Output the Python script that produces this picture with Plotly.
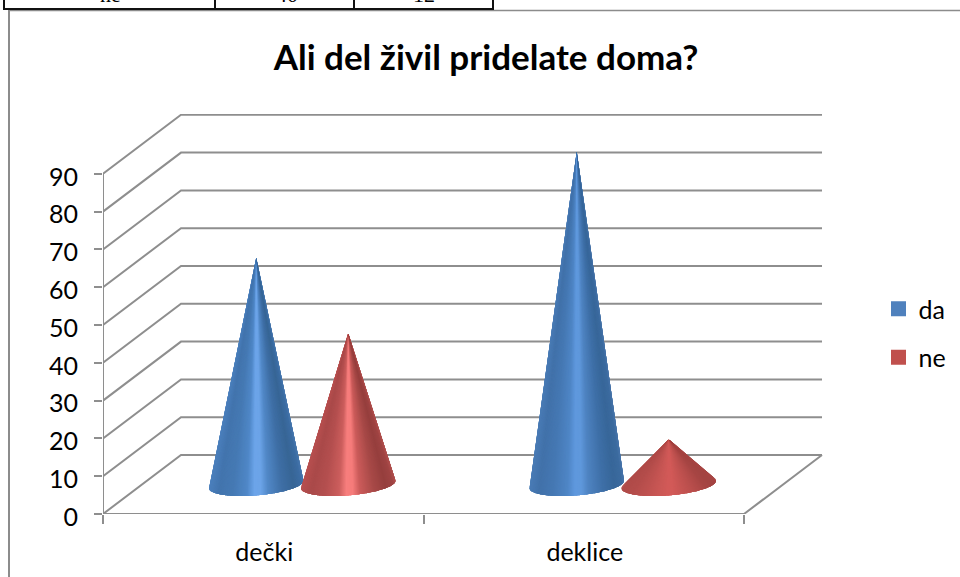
import numpy as np
import plotly.graph_objects as go

# Survey results
categories = ["dečki", "deklice"]
series_names = ["da", "ne"]
da_values = [60, 88]
ne_values = [40, 12]
y_ticks = [0, 10, 20, 30, 40, 50, 60, 70, 80, 90]
table_row = ["ne", "40", "12"]

# Canvas and plot-box geometry, in pixels
W, H = 960, 577
PX_LEFT, PX_RIGHT, PX_TOP, PX_BOTTOM = 103, 823, 114, 514
CAT_PX = 320.5      # width of one category on the floor's front edge
UNIT_PX = 3.78      # height of one value unit
DEPTH_X = (78 / CAT_PX)     # floor depth expressed in x data units
DEPTH_Y = (59 / UNIT_PX)    # floor depth expressed in y data units

GRID = "#8e8e8e"
SIDE_OFFSET = 46 / CAT_PX   # horizontal offset of a cone from the category centre
RADIUS_X = 44.7 / CAT_PX
RADIUS_Y = 11.5 / UNIT_PX

# Colour profile across a cone, from the left silhouette to the right one
PROFILE_U = [-1.0, -0.8, -0.5, -0.2, -0.04, 0.1, 0.25, 0.55, 0.8, 0.95, 1.0]
BLUE_PROFILE = ["#4c80bd", "#4375ae", "#467ab4", "#5088c8", "#6ca5ea", "#6ca4e8", "#5289c8",
                "#3f6fa6", "#386696", "#3d6da3", "#4777ae"]
BLUE_TALL_PROFILE = ["#4a7cb6", "#4272aa", "#4679b4", "#4f86c6", "#5f98de", "#5f98dc", "#4f84c2",
                     "#3f70a8", "#38679a", "#3d6ca0", "#4775aa"]
RED_PROFILE = ["#b85050", "#aa4a4a", "#b55050", "#cc5e5d", "#f87f7e", "#f67c7b", "#cc5c5b",
               "#a84a48", "#963f3e", "#a04544", "#b04f4d"]
RED_FLAT_PROFILE = ["#b04b49", "#b44d4b", "#bf5250", "#cb5856", "#d25a58", "#d25a58", "#c95654",
                    "#b84e4c", "#a84644", "#a34442", "#a84644"]
CONE_STYLES_DA = [BLUE_PROFILE, BLUE_TALL_PROFILE]
CONE_STYLES_NE = [RED_PROFILE, RED_FLAT_PROFILE]


def shade(profile, u):
    rgb = np.array([[int(c[i:i + 2], 16) for i in (1, 3, 5)] for c in profile], float)
    vals = [np.interp(u, PROFILE_U, rgb[:, k]) for k in range(3)]
    return "rgb(%d,%d,%d)" % tuple(vals)


def cone_traces(cx, value, profile, steps=120, overlap=4):
    """Fan of shaded facets from the apex to a base circle lying on the sheared floor."""
    base_y = DEPTH_Y / 2
    apex_y = base_y + value
    run = (DEPTH_X / DEPTH_Y) * RADIUS_Y
    # Starts at the left silhouette point and sweeps the near arc first
    theta = np.arctan2(run, RADIUS_X) - np.pi + np.linspace(0, 2 * np.pi, 2 * steps + 1)
    bx = cx + RADIUS_X * np.cos(theta) + run * np.sin(theta)
    by = base_y + RADIUS_Y * np.sin(theta)
    reach = bx.max() - cx
    half = steps
    out = []
    # Far arc goes down first; near facets then overlap their right-hand neighbour's
    # slot, so each new facet hides the seam left by the one before it
    for i in list(range(half, 2 * half, 2)) + list(range(0, half)):
        end = min(i + overlap, 2 * half)
        u = (bx[i] + bx[i + 1]) / 2
        col = shade(profile, (u - cx) / reach)
        out.append(go.Scatter(
            x=[cx, *bx[i:end + 1], cx], y=[apex_y, *by[i:end + 1], apex_y],
            mode="none", fill="toself", fillcolor=col,
            hoverinfo="skip", showlegend=False, cliponaxis=False,
        ))
    return out


fig = go.Figure()

# Floor outline and the gridlines wrapping round the side and back walls
x_end = len(categories)
for tick in y_ticks:
    fig.add_trace(go.Scatter(
        x=[0, DEPTH_X, x_end + DEPTH_X], y=[tick, tick + DEPTH_Y, tick + DEPTH_Y],
        mode="lines", line=dict(color=GRID, width=2), hoverinfo="skip",
        showlegend=False, cliponaxis=False,
    ))
fig.add_trace(go.Scatter(
    x=[0, x_end, x_end + DEPTH_X], y=[0, 0, DEPTH_Y],
    mode="lines", line=dict(color=GRID, width=2), hoverinfo="skip",
    showlegend=False, cliponaxis=False,
))
fig.add_trace(go.Scatter(
    x=[0, 0], y=[0, y_ticks[-1]],
    mode="lines", line=dict(color=GRID, width=2), hoverinfo="skip",
    showlegend=False, cliponaxis=False,
))

# Cones, one per category and series
depth_mid = DEPTH_X / 2
for i in range(len(categories)):
    centre = i + 0.5 + depth_mid
    for t in cone_traces(centre - SIDE_OFFSET, da_values[i], CONE_STYLES_DA[i]):
        fig.add_trace(t)
    for t in cone_traces(centre + SIDE_OFFSET, ne_values[i], CONE_STYLES_NE[i]):
        fig.add_trace(t)

# Legend entries
for name, col in zip(series_names, ["#4f81bd", "#c0504d"]):
    fig.add_trace(go.Scatter(
        x=[None], y=[None], mode="markers", name=name, legendgroup=name,
        marker=dict(symbol="square", size=15, color=col),
    ))


def fx(px):
    return (px - PX_LEFT) / (PX_RIGHT - PX_LEFT)


def fy(py):
    return (PX_BOTTOM - py) / (PX_BOTTOM - PX_TOP)


def page_line(x0, y0, x1, y1, color, width):
    return dict(type="line", xref="paper", yref="paper", x0=fx(x0), y0=fy(y0), x1=fx(x1), y1=fy(y1),
                line=dict(color=color, width=width))


# Frame of the chart and the bottom of the table above it
shapes = [
    page_line(9, 10.5, 960, 10.5, "#8c8c8c", 1.5),
    page_line(9, 10, 9, 577, "#8c8c8c", 2),
    page_line(3, 9, 494, 9, "#111111", 2),
]
for px in (4, 215, 354, 493):
    shapes.append(page_line(px, 0, px, 9, "#111111", 2))

annotations = [
    dict(text=txt, xref="paper", yref="paper", x=fx(px), y=fy(9), xanchor="center", yanchor="bottom",
         showarrow=False, font=dict(family="Liberation Serif", size=22, color="#000000"))
    for txt, px in zip(table_row, (110, 287, 424))
]

fig.update_layout(
    width=W, height=H,
    autosize=False,
    margin=dict(l=PX_LEFT, r=W - PX_RIGHT, t=PX_TOP, b=H - PX_BOTTOM, pad=0, autoexpand=False),
    paper_bgcolor="white", plot_bgcolor="white",
    font=dict(family="Lato", color="#000000"),
    title=dict(text="<b>Ali del živil pridelate doma?</b>", font=dict(family="Lato", size=35, color="#000000"),
               x=486 / W, xanchor="center", y=1 - 58 / H, yanchor="middle"),
    legend=dict(x=fx(878.5), y=fy(286), xanchor="left", yanchor="top", font=dict(size=25),
                tracegroupgap=13, bgcolor="rgba(0,0,0,0)"),
    shapes=shapes, annotations=annotations,
    xaxis=dict(
        range=[0, (PX_RIGHT - PX_LEFT) / CAT_PX], showgrid=False, zeroline=False, showline=False,
        tickvals=[i + 0.5 for i in range(len(categories))], ticktext=categories, ticks="",
        tickfont=dict(size=25), ticklabelstandoff=21, ticklabelshift=1,
        minor=dict(tickvals=list(range(len(categories) + 1)), ticks="outside", ticklen=9, tickwidth=2,
                   tickcolor=GRID, showgrid=False),
    ),
    yaxis=dict(
        range=[0, (PX_BOTTOM - PX_TOP) / UNIT_PX], showgrid=False, zeroline=False, showline=False,
        tickvals=y_ticks, ticks="outside", ticklen=8, tickwidth=2, tickcolor=GRID,
        tickfont=dict(size=25), ticklabelstandoff=11, ticklabelshift=3,
    ),
    hovermode=False,
)

fig.write_html("out.html")
